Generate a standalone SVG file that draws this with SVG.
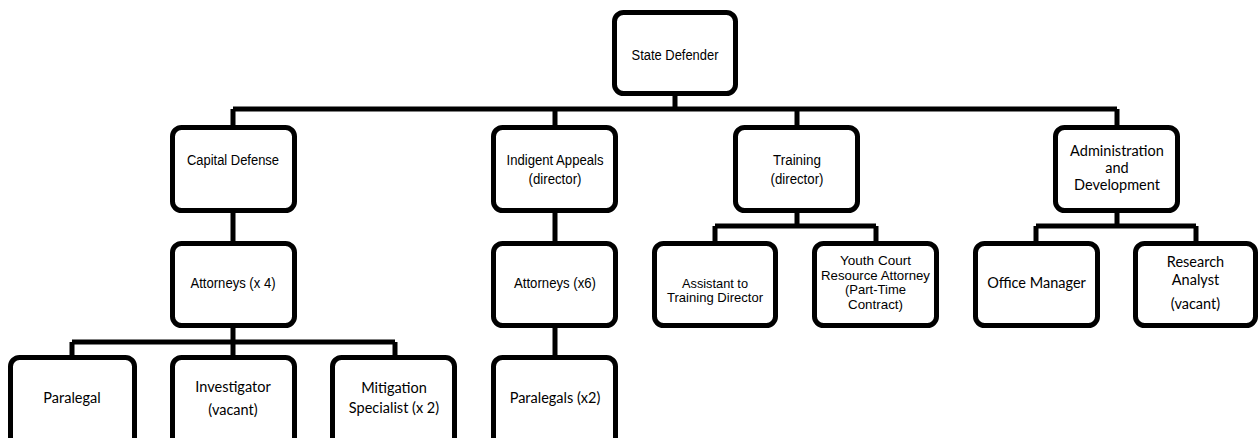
<svg xmlns="http://www.w3.org/2000/svg" width="1260" height="438" viewBox="0 0 1260 438">
<style>
.box{fill:#fff;stroke:#000;stroke-width:5}
.ln{fill:none;stroke:#000;stroke-width:5;stroke-linecap:butt}
.a{font-family:"Liberation Sans",Arial,sans-serif;font-size:15.5px;fill:#000;text-anchor:middle}
.t{font-size:13.5px}
.c{font-family:Lato,"Liberation Sans",sans-serif;font-size:14.5px;fill:#000;text-anchor:middle}
</style>
<rect width="1260" height="438" fill="#fff"/>
<g id="connectors">
<path class="ln" d="M675 94V109M233 109H1117M233 109V127M555 109V127M797 109V127M1117 109V127"/>
<path class="ln" d="M233 211V243M233 326V342M72 342H395M72 342V357M233 342V357M395 342V357"/>
<path class="ln" d="M555 211V243M555 326V357"/>
<path class="ln" d="M797 211V226M715 226H876M715 226V243M876 226V243"/>
<path class="ln" d="M1117 211V226M1036 226H1196M1036 226V243M1196 226V243"/>
</g>
<g id="state-defender"><rect class="box" x="614.5" y="12.5" width="121" height="81" rx="9"/><text class="a" x="675" y="60" textLength="87" lengthAdjust="spacingAndGlyphs">State Defender</text></g>
<g id="capital-defense"><rect class="box" x="172.5" y="127.5" width="122" height="83" rx="9"/><text class="a" x="233" y="165" textLength="92" lengthAdjust="spacingAndGlyphs">Capital Defense</text></g>
<g id="indigent-appeals"><rect class="box" x="493.5" y="127.5" width="122" height="83" rx="9"/><text class="a" x="555" y="165" textLength="97" lengthAdjust="spacingAndGlyphs">Indigent Appeals</text><text class="a" x="555" y="184" textLength="53" lengthAdjust="spacingAndGlyphs">(director)</text></g>
<g id="training"><rect class="box" x="735.5" y="127.5" width="122" height="83" rx="9"/><text class="a" x="797" y="165" textLength="48" lengthAdjust="spacingAndGlyphs">Training</text><text class="a" x="797" y="184" textLength="53" lengthAdjust="spacingAndGlyphs">(director)</text></g>
<g id="admin"><rect class="box" x="1055.5" y="127.5" width="122" height="83" rx="9"/><text class="c" x="1117" y="156">Administration</text><text class="c" x="1117" y="173">and</text><text class="c" x="1117" y="190">Development</text></g>
<g id="attorneys-cd"><rect class="box" x="172.5" y="243.5" width="122" height="82" rx="9"/><text class="a" x="233" y="288" textLength="85" lengthAdjust="spacingAndGlyphs">Attorneys (x 4)</text></g>
<g id="attorneys-ia"><rect class="box" x="493.5" y="243.5" width="122" height="82" rx="9"/><text class="a" x="555" y="288" textLength="82" lengthAdjust="spacingAndGlyphs">Attorneys (x6)</text></g>
<g id="assistant"><rect class="box" x="654.5" y="243.5" width="121" height="82" rx="9"/><text class="a t" x="715" y="288" textLength="66" lengthAdjust="spacingAndGlyphs">Assistant to</text><text class="a t" x="715" y="302" textLength="96" lengthAdjust="spacingAndGlyphs">Training Director</text></g>
<g id="youth-court"><rect class="box" x="814.5" y="243.5" width="122" height="82" rx="9"/><text class="a t" x="875.5" y="265" textLength="71" lengthAdjust="spacingAndGlyphs">Youth Court</text><text class="a t" x="875.5" y="280" textLength="109" lengthAdjust="spacingAndGlyphs">Resource Attorney</text><text class="a t" x="875.5" y="294" textLength="61" lengthAdjust="spacingAndGlyphs">(Part-Time</text><text class="a t" x="875.5" y="309" textLength="55" lengthAdjust="spacingAndGlyphs">Contract)</text></g>
<g id="office-manager"><rect class="box" x="975.5" y="243.5" width="122" height="82" rx="9"/><text class="c" x="1036.5" y="288">Office Manager</text></g>
<g id="research-analyst"><rect class="box" x="1135.5" y="243.5" width="120" height="82" rx="9"/><text class="c" x="1195.5" y="267">Research</text><text class="c" x="1195.5" y="285">Analyst</text><text class="c" x="1195.5" y="309">(vacant)</text></g>
<g id="paralegal"><rect class="box" x="10.5" y="357.5" width="124" height="90" rx="9"/><text class="c" x="72" y="403">Paralegal</text></g>
<g id="investigator"><rect class="box" x="172.5" y="357.5" width="122" height="90" rx="9"/><text class="c" x="233" y="392">Investigator</text><text class="c" x="233" y="415">(vacant)</text></g>
<g id="mitigation"><rect class="box" x="332.5" y="357.5" width="122" height="90" rx="9"/><text class="c" x="394" y="393">Mitigation</text><text class="c" x="394" y="413">Specialist (x 2)</text></g>
<g id="paralegals"><rect class="box" x="493.5" y="357.5" width="122" height="90" rx="9"/><text class="c" x="555" y="403">Paralegals (x2)</text></g>
</svg>
